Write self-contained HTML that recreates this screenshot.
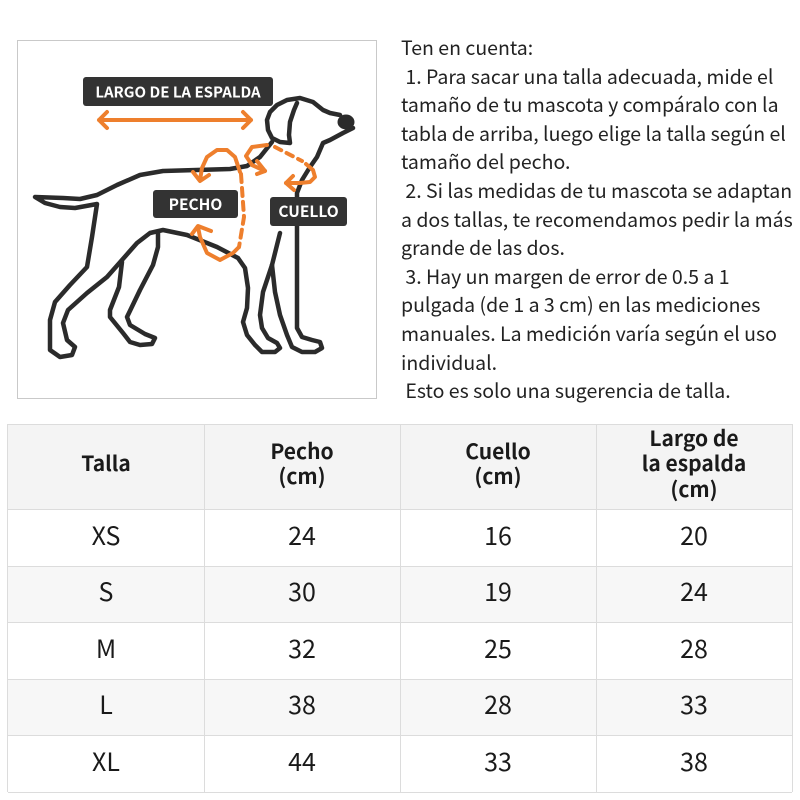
<!DOCTYPE html>
<html>
<head>
<meta charset="utf-8">
<style>
  html,body{margin:0;padding:0;background:#fff;}
  body{width:800px;height:800px;position:relative;overflow:hidden;
       font-family:"Noto Sans CJK JP","Liberation Sans",sans-serif;color:#1e1e1e;}
  .note{position:absolute;left:401px;top:33px;font-size:19.5px;line-height:28.6px;white-space:pre;color:#222;}
  .bg{position:absolute;left:8px;width:784px;}
  .hl{position:absolute;left:8px;width:784px;height:1px;background:#dcdcdc;}
  .vl{position:absolute;top:424px;height:368px;width:1px;background:#dcdcdc;}
  .cell{position:absolute;width:196px;display:flex;align-items:center;justify-content:center;text-align:center;box-sizing:border-box;}
  .h{font-weight:bold;font-size:21px;line-height:25.5px;padding-bottom:5px;color:#1a1a1a;}
  .d{font-size:25px;line-height:30px;padding-bottom:6px;color:#1a1a1a;}
</style>
</head>
<body>

<svg width="800" height="420" style="position:absolute;left:0;top:0" xmlns="http://www.w3.org/2000/svg">
  <rect x="17.5" y="40.5" width="359" height="358" fill="#fff" stroke="#c9c9c9" stroke-width="1"/>
  <g fill="none" stroke="#2b2b2b" stroke-width="4.5" stroke-linecap="round" stroke-linejoin="round">
    <!-- back, tail, outer hind leg, belly, inner front leg -->
    <path d="M272,142 L260,157 L247,166 L230,169 L163,171 L140,175 L117,185 L97,195 L80,199 L63,198 L35,197 L45,203 L60,207 L75,208 L97,204 L92,237 L87,267 L70,285 L55,302 L50,320 L50,350 L60,357 L72,355 L75,347 L67,340 L63,323 L68,310 L87,293 L107,277 L122,260 L137,243 L150,233 L163,230 L187,235 L217,247 L238,258 L245,268 L248,288 L247,308 L243,322 L247,335 L255,345 L262,352 L275,352 L280,348 L277,343 L268,338 L262,328 L260,315 L263,292 L272,265 L280,233"/>
    <!-- inner hind leg -->
    <path d="M122,262 L119,287 L110,310 L110,317 L123,333 L130,342 L140,345 L152,344 L155,338 L145,334 L130,325 L127,317 L140,290 L153,265 L158,247 L158,233"/>
    <!-- head, chest, outer front leg -->
    <path d="M297,103 L294,110 L290,122 L289,135 L290,143 L280,142 L272,138 L268,130 L267,120 L270,112 L277,105 L287,100 L300,98 L313,102 L323,110 L330,113 L340,115"/>
    <path d="M353,128 L343,133 L330,140 L323,143 L317,157 L310,167 L302,180 L297,193 L297,222 L297,328 L302,337 L312,340 L320,342 L322,348 L315,352 L302,352 L292,347 L287,335 L280,315 L275,292 L272,265"/>
  </g>
  <ellipse cx="346" cy="122" rx="8.5" ry="7.5" fill="#2b2b2b"/>

  <g fill="none" stroke="#ee7f2d" stroke-width="4" stroke-linecap="round" stroke-linejoin="round">
    <!-- back length arrow -->
    <path d="M99,120 L251,120 M107,112 L99,120 L107,128 M243,112 L251,120 L243,128"/>
    <!-- chest dashed -->
    <path d="M241,174 L244,217 L239,247" stroke-dasharray="8 6"/>
    <path d="M240,172 L235,157 L227,150 L217,150 L207,157 L202,168 L200,180"/>
    <path d="M193,172 L200,181 L209,175"/>
    <path d="M238,248 L233,253 L220,260 L207,253 L200,237 L198,227"/>
    <path d="M192,234 L198,226 L211,231"/>
    <!-- neck loop -->
    <path d="M267,145 L252,147 L246,156 L252,165 L265,171"/>
    <path d="M257,161 L265,171 L257,174"/>
    <!-- cuello dashed -->
    <path d="M275,147 L302,161" stroke-dasharray="7 6"/>
    <path d="M306,164 L313,170 L315,177 L310,182 L300,183 L286,183"/>
    <path d="M293,176 L286,183 L294,190"/>
  </g>

  <rect x="83" y="77" width="190" height="29" rx="3" fill="#333"/>
  <rect x="153" y="190" width="85" height="28" rx="3" fill="#333"/>
  <rect x="270" y="197" width="77" height="29" rx="3" fill="#333"/>
  <g fill="#fff" font-family="Noto Sans CJK JP, Liberation Sans, sans-serif" font-weight="bold" text-anchor="middle">
    <text x="178" y="97.5" font-size="15">LARGO DE LA ESPALDA</text>
    <text x="195.5" y="210" font-size="15.5">PECHO</text>
    <text x="308.5" y="217" font-size="15.5">CUELLO</text>
  </g>
</svg>

<div class="note">Ten en cuenta:
 1. Para sacar una talla adecuada, mide el
tamaño de tu mascota y compáralo con la
tabla de arriba, luego elige la talla según el
tamaño del pecho.
 2. Si las medidas de tu mascota se adaptan
a dos tallas, te recomendamos pedir la más
grande de las dos.
 3. Hay un margen de error de 0.5 a 1
pulgada (de 1 a 3 cm) en las mediciones
manuales. La medición varía según el uso
individual.
 Esto es solo una sugerencia de talla.</div>

<!-- table backgrounds -->
<div class="bg" style="top:424px;height:85px;background:#f4f4f4"></div>
<div class="bg" style="top:566px;height:56px;background:#f7f7f7"></div>
<div class="bg" style="top:679px;height:56px;background:#f7f7f7"></div>

<!-- lines -->
<div class="hl" style="top:424px"></div>
<div class="hl" style="top:509px"></div>
<div class="hl" style="top:566px"></div>
<div class="hl" style="top:622px"></div>
<div class="hl" style="top:679px"></div>
<div class="hl" style="top:735px"></div>
<div class="hl" style="top:792px"></div>
<div class="vl" style="left:7px"></div>
<div class="vl" style="left:204px"></div>
<div class="vl" style="left:400px"></div>
<div class="vl" style="left:596px"></div>
<div class="vl" style="left:792px"></div>

<!-- header -->
<div class="cell h" style="left:8px;top:424px;height:85px">Talla</div>
<div class="cell h" style="left:204px;top:424px;height:85px">Pecho<br>(cm)</div>
<div class="cell h" style="left:400px;top:424px;height:85px">Cuello<br>(cm)</div>
<div class="cell h" style="left:596px;top:424px;height:85px">Largo de<br>la espalda<br>(cm)</div>

<!-- rows -->
<div class="cell d" style="left:8px;top:509px;height:57px">XS</div>
<div class="cell d" style="left:204px;top:509px;height:57px">24</div>
<div class="cell d" style="left:400px;top:509px;height:57px">16</div>
<div class="cell d" style="left:596px;top:509px;height:57px">20</div>

<div class="cell d" style="left:8px;top:566px;height:56px">S</div>
<div class="cell d" style="left:204px;top:566px;height:56px">30</div>
<div class="cell d" style="left:400px;top:566px;height:56px">19</div>
<div class="cell d" style="left:596px;top:566px;height:56px">24</div>

<div class="cell d" style="left:8px;top:622px;height:57px">M</div>
<div class="cell d" style="left:204px;top:622px;height:57px">32</div>
<div class="cell d" style="left:400px;top:622px;height:57px">25</div>
<div class="cell d" style="left:596px;top:622px;height:57px">28</div>

<div class="cell d" style="left:8px;top:679px;height:56px">L</div>
<div class="cell d" style="left:204px;top:679px;height:56px">38</div>
<div class="cell d" style="left:400px;top:679px;height:56px">28</div>
<div class="cell d" style="left:596px;top:679px;height:56px">33</div>

<div class="cell d" style="left:8px;top:735px;height:57px">XL</div>
<div class="cell d" style="left:204px;top:735px;height:57px">44</div>
<div class="cell d" style="left:400px;top:735px;height:57px">33</div>
<div class="cell d" style="left:596px;top:735px;height:57px">38</div>

</body>
</html>
